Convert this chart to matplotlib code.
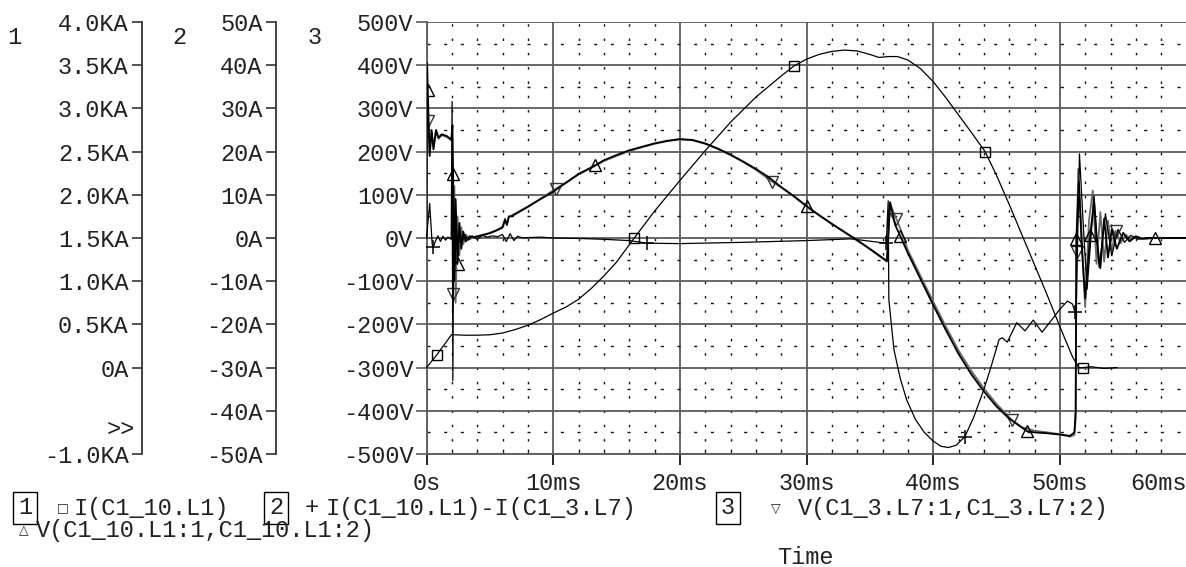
import numpy as np
import matplotlib
matplotlib.use("Agg")
import matplotlib.pyplot as plt
from matplotlib.ticker import FixedLocator, FixedFormatter, MultipleLocator

plt.rcParams['font.family'] = ['Liberation Mono', 'DejaVu Sans']
FS = 17
plt.rcParams['font.size'] = FS

# ---------------- data ----------------
# series 1: I(C1_10.L1)  [KA]  (axis 1)
t1 = [0, 0.8, 2.0, 2.1, 3, 4, 5, 6, 7, 8, 9, 10, 11, 12, 13, 14, 15, 16.4, 18, 20, 22, 24, 26, 28,
      29, 30, 31, 32, 33, 34, 35, 35.7, 36.5, 37.2, 38, 39, 40, 41, 42, 43, 44.1, 45, 46, 47, 48,
      49, 50, 51, 51.5, 51.8, 52.5, 53.5, 54.5]
s1 = [0.0, 0.145, 0.385, 0.38, 0.375, 0.375, 0.38, 0.40, 0.44, 0.49, 0.555, 0.63, 0.70, 0.79, 0.915,
      1.06, 1.22, 1.5, 1.81, 2.165, 2.51, 2.84, 3.13, 3.375, 3.49, 3.57, 3.625, 3.66, 3.675, 3.665,
      3.625, 3.59, 3.60, 3.60, 3.56, 3.46, 3.31, 3.125, 2.925, 2.725, 2.5, 2.225, 1.89, 1.54, 1.19,
      0.84, 0.475, 0.125, 0.0, 0.0, 0.01, -0.01, 0.0]
m1 = [0.8, 16.4, 29, 44.1, 51.8]

# series 2: I(C1_10.L1)-I(C1_3.L7)  [A]  (axis 2)
t2 = [0, 0.25, 0.45, 0.55, 0.7, 0.9, 1.1, 1.3, 1.5, 1.7, 1.95, 2.02, 2.08, 2.15, 2.25, 2.35, 2.45,
      2.6, 2.8, 3.0, 3.3, 3.6, 4.0, 4.4, 4.8, 5.2, 5.6, 6.0, 6.3, 6.6, 6.9, 7.2, 7.6, 8.0, 9.0, 10.0,
      12.0, 14.0, 16.0, 17.4, 20.0, 25.0, 30.0, 33.5, 36.3, 36.45, 36.5, 36.9, 37.4, 37.9, 38.6,
      39.3, 40.0, 40.6, 41.2, 41.8, 42.5, 43.2, 44.0, 44.6, 45.2, 45.45, 45.85, 46.6, 47.25, 47.9,
      48.6, 49.4, 50.0, 50.6, 51.0, 51.2, 51.3, 51.55, 51.85, 52.15, 52.7, 53.1, 53.6, 54.1, 54.6,
      55.1, 55.6, 56.2, 57.0, 58.0, 60.0]
s2 = [0, 8.0, -1.5, -2.0, -0.8, 0.5, -0.8, 0.4, -0.5, 0.2, -0.3, 31.6, -33.0, 4.0, -6.0, 3.0, -2.5,
      1.5, -1.0, 0.8, -0.5, 0.5, -0.3, 0.6, 0.2, 0.5, 0.3, 0.8, -0.8, 1.0, -0.6, 0.4, 0.0, 0.1, 0.2,
      0.0, -0.1, -0.3, -0.6, -1.2, -1.3, -1.0, -0.6, -0.2, -1.2, 8.6, -14.2, -25.8, -32.5, -37.4,
      -42.0, -45.0, -47.0, -48.2, -48.5, -48.0, -46.0, -41.5, -35.1, -29.5, -23.5, -23.1, -24.1,
      -19.6, -21.5, -19.0, -21.8, -18.8, -16.5, -14.6, -15.3, -17.2, -15.0, 19.5, 3.0, -11.9, 9.8,
      -6.8, 5.6, -4.1, 2.0, -1.0, 0.6, -0.3, 0.1, 0.0, 0.0]
m2 = [0.55, 17.4, 36.3, 42.5, 51.2]

# series 3: V(C1_3.L7:1,C1_3.L7:2)  [V]  (axis 3)
t3 = [0, 0.05, 0.1, 0.25, 0.4, 0.55, 0.75, 0.95, 1.2, 1.6, 1.95, 2.0, 2.1, 2.2, 2.3, 2.45, 2.6, 2.75,
      2.9, 3.1, 3.4, 3.8, 4.5, 5.0, 5.5, 6.0, 6.2, 6.35, 6.5, 6.7, 7.0, 8.0, 9.0, 10.2, 11.0, 12.0,
      13.0, 14.0, 15.0, 16.0, 17.0, 18.0, 19.0, 20.0, 21.0, 22.0, 23.0, 24.0, 25.0, 26.0, 27.3, 28.0,
      29.0, 30.0, 31.0, 32.0, 33.0, 34.0, 35.0, 36.35, 36.5, 36.6, 37.1, 37.5, 38.0, 39.0, 40.0, 41.0,
      42.0, 43.0, 44.0, 45.0, 46.2, 47.0, 48.0, 49.0, 50.0, 50.8, 51.15, 51.25, 51.32, 51.45, 51.7,
      52.0, 52.3, 52.6, 52.9, 53.2, 53.5, 53.8, 54.1, 54.4, 54.8, 55.2, 55.6, 56.0, 56.5, 57.5, 58.5,
      60.0]
s3 = [0, 300, 270, 200, 245, 210, 245, 230, 238, 234, 226, 230, -130, 120, -150, 50, -40, 25, -15, 8,
      -3, 3, 8, 12, 18, 26, 45, 33, 48, 52, 57, 73, 91, 114, 127, 147, 162, 178, 190, 201, 210, 218,
      224, 228, 226, 218, 206, 192, 176, 158, 130, 117, 96, 73, 52, 32, 13, -6, -26, -55, 25, 78, 44,
      15, -28, -88, -147, -205, -260, -307, -348, -384, -421, -438, -446, -450, -454, -460, -456,
      -420, -33, 160, 20, -160, 40, 110, -60, 60, -55, 40, -30, 17, -12, 8, -5, 3, -1, 0, 0, 0]
m3 = [0.1, 2.1, 10.2, 27.3, 37.1, 46.2, 51.32, 54.4]

# series 4: V(C1_10.L1:1,C1_10.L1:2)  [V]  (axis 3)
t4 = [0, 0.05, 0.1, 0.25, 0.4, 0.55, 0.75, 0.95, 1.2, 1.6, 1.95, 2.05, 2.1, 2.2, 2.3, 2.45, 2.6, 2.75,
      2.9, 3.1, 3.4, 3.8, 4.5, 5.0, 5.5, 6.0, 6.2, 6.35, 6.5, 6.7, 7.0, 8.0, 9.0, 10.0, 11.0, 12.0,
      13.3, 14.0, 15.0, 16.0, 17.0, 18.0, 19.0, 20.0, 21.0, 22.0, 23.0, 24.0, 25.0, 26.0, 27.0, 28.0,
      29.0, 30.0, 31.0, 32.0, 33.0, 34.0, 35.0, 36.35, 36.5, 36.6, 37.0, 37.4, 38.0, 39.0, 40.0, 41.0,
      42.0, 43.0, 44.0, 45.0, 46.0, 47.4, 48.0, 49.0, 50.0, 50.8, 51.15, 51.25, 51.3, 51.5, 51.75,
      52.0, 52.4, 52.7, 52.9, 53.2, 53.5, 53.8, 54.1, 54.5, 55.0, 55.5, 56.0, 56.5, 57.5, 58.5, 60.0]
s4 = [0, 405, 342, 190, 250, 205, 250, 232, 240, 236, 228, 260, 149, -100, 90, -60, 35, -25, 15, -8,
      4, 2, 7, 11, 17, 24, 42, 30, 50, 50, 55, 72, 90, 107, 128, 148, 168, 180, 192, 203, 211, 219,
      225, 229, 227, 219, 207, 193, 177, 160, 141, 118, 97, 74, 53, 33, 14, -5, -25, -53, 30, 83, 30,
      5, -35, -95, -155, -213, -268, -315, -355, -390, -418, -447, -450, -452, -455, -458, -450, -400,
      -2, 130, -30, -140, 7, 85, -3, -70, 45, -45, 20, -25, 12, -8, 4, -2, 0, 0, 0]
m4 = [0.1, 2.1, 2.45, 13.3, 30.0, 37.4, 47.4, 51.3, 52.4, 57.5]

# axis ticks / labels
x_ticks = [0, 10, 20, 30, 40, 50, 60]
x_labels = ["0s", "10ms", "20ms", "30ms", "40ms", "50ms", "60ms"]
ka_ticks = [-1.0, 0.0, 0.5, 1.0, 1.5, 2.0, 2.5, 3.0, 3.5, 4.0]
ka_labels = ["-1.0KA", "0A", "0.5KA", "1.0KA", "1.5KA", "2.0KA", "2.5KA", "3.0KA", "3.5KA", "4.0KA"]
a_ticks = [-50, -40, -30, -20, -10, 0, 10, 20, 30, 40, 50]
a_labels = ["-50A", "-40A", "-30A", "-20A", "-10A", "0A", "10A", "20A", "30A", "40A", "50A"]
v_ticks = [-500, -400, -300, -200, -100, 0, 100, 200, 300, 400, 500]
v_labels = ["-500V", "-400V", "-300V", "-200V", "-100V", "0V", "100V", "200V", "300V", "400V", "500V"]

legend_names = ["I(C1_10.L1)", "I(C1_10.L1)-I(C1_3.L7)", "V(C1_3.L7:1,C1_3.L7:2)",
                "V(C1_10.L1:1,C1_10.L1:2)"]

# ---------------- figure ----------------
W, H = 1186, 567
fig = plt.figure(figsize=(W / 100, H / 100), dpi=100)

def fx(px):
    return px / W

def fy(py):
    return 1 - py / H

X0, X1, Y0, Y1 = 426.5, 1186.5, 22.0, 454.0
ax = fig.add_axes([fx(X0), fy(Y1), (X1 - X0) / W, (Y1 - Y0) / H])
ax.set_xlim(0, 60)
ax.set_ylim(-500, 500)

GRID = '#5c5c5c'
TXT = '#222222'

# grid
ax.xaxis.set_major_locator(FixedLocator(x_ticks))
ax.xaxis.set_major_formatter(FixedFormatter(x_labels))
ax.xaxis.set_minor_locator(MultipleLocator(2))
ax.yaxis.set_major_locator(FixedLocator(v_ticks))
ax.yaxis.set_major_formatter(FixedFormatter(v_labels))
ax.yaxis.set_minor_locator(MultipleLocator(50))
ax.grid(which='major', color=GRID, lw=1.3, ls='-')
ax.xaxis.grid(which='minor', color='#111111', lw=1.0, ls=(1.0, (1.8, 8.5)))
ax.yaxis.grid(which='minor', color='#111111', lw=1.0, ls=(0, (2.2, 9.8)))
ax.set_axisbelow(True)

for sp in ['top', 'right']:
    ax.spines[sp].set_visible(False)
for sp in ['left', 'bottom']:
    ax.spines[sp].set_color(GRID)
    ax.spines[sp].set_linewidth(1.3)

ax.tick_params(axis='y', which='major', direction='out', length=8, width=1.2, color=GRID,
               pad=1.5, labelsize=FS, labelcolor=TXT)
ax.tick_params(axis='y', which='minor', length=0)
ax.tick_params(axis='x', which='major', direction='out', length=8, width=1.2, color='black',
               pad=5, labelsize=FS, labelcolor=TXT)
ax.tick_params(axis='x', which='minor', direction='in', length=3.5, width=1.0, color='#222222')
labs = ax.get_xticklabels()
labs[-1].set_horizontalalignment('right')

# secondary axes 1 (KA) and 2 (A)
ax1 = ax.twinx()
ax2 = ax.twinx()
for a, xpos, ticks, labels, lim in [(ax1, 142.5, ka_ticks, ka_labels, (-1.0, 4.0)),
                                    (ax2, 276.5, a_ticks, a_labels, (-50, 50))]:
    a.patch.set_visible(False)
    a.set_ylim(*lim)
    for sp in ['top', 'right', 'bottom']:
        a.spines[sp].set_visible(False)
    a.spines['left'].set_visible(True)
    a.spines['left'].set_position(('axes', (xpos - X0) / (X1 - X0)))
    a.spines['left'].set_color('#333333')
    a.spines['left'].set_linewidth(1.3)
    a.yaxis.tick_left()
    a.yaxis.set_major_locator(FixedLocator(ticks))
    a.yaxis.set_major_formatter(FixedFormatter(labels))
    a.tick_params(axis='y', direction='out', length=7.5, width=1.2, color='#333333', pad=2.5,
                  labelsize=FS, labelcolor=TXT)

def idx(t, marks):
    t = np.asarray(t)
    return [int(np.argmin(np.abs(t - m))) for m in marks]

# series
ax.plot(t3, s3, color='#6a6a6a', lw=1.3, marker='v', ms=8, mfc='none', mec='#333333', mew=1.0,
        markevery=idx(t3, m3), zorder=3)
ax.plot(t4, s4, color='black', lw=1.3, marker='^', ms=8, mfc='none', mec='black', mew=1.0,
        markevery=idx(t4, m4), zorder=4)
ax1.plot(t1, s1, color='black', lw=0.9, marker='s', ms=7, mfc='none', mec='black', mew=1.0,
         markevery=idx(t1, m1))
ax2.plot(t2, s2, color='black', lw=0.9, marker='+', ms=10, mec='black', mew=1.1,
         markevery=idx(t2, m2))

# axis numbers and >>
fig.text(fx(14), fy(38), "1", ha='center', va='center', color=TXT, fontsize=FS)
fig.text(fx(179), fy(38), "2", ha='center', va='center', color=TXT, fontsize=FS)
fig.text(fx(315), fy(38), "3", ha='center', va='center', color=TXT, fontsize=FS)
fig.text(fx(121), fy(429), ">>", ha='center', va='center', color=TXT, fontsize=FS)

# legend
ly1, ly2 = 508, 531
box = dict(boxstyle='square,pad=0.2', fc='none', ec='black', lw=1.0)
fig.text(fx(25), fy(ly1), "1", ha='center', va='center', color=TXT, fontsize=FS, bbox=box)
fig.text(fx(63), fy(ly1), "\u25a1", ha='center', va='center', color=TXT, fontsize=9,
         family='DejaVu Sans')
fig.text(fx(74), fy(ly1), legend_names[0], ha='left', va='center', color=TXT, fontsize=FS)
fig.text(fx(276), fy(ly1), "2", ha='center', va='center', color=TXT, fontsize=FS, bbox=box)
fig.text(fx(312), fy(ly1), "+", ha='center', va='center', color=TXT, fontsize=FS)
fig.text(fx(326), fy(ly1), legend_names[1], ha='left', va='center', color=TXT, fontsize=FS)
fig.text(fx(728), fy(ly1), "3", ha='center', va='center', color=TXT, fontsize=FS, bbox=box)
fig.text(fx(776), fy(ly1), "\u25bd", ha='center', va='center', color=TXT, fontsize=9,
         family='DejaVu Sans')
fig.text(fx(798), fy(ly1), legend_names[2], ha='left', va='center', color=TXT, fontsize=FS)
fig.text(fx(24), fy(ly2), "\u25b3", ha='center', va='center', color=TXT, fontsize=9,
         family='DejaVu Sans')
fig.text(fx(36), fy(ly2), legend_names[3], ha='left', va='center', color=TXT, fontsize=FS)

fig.text(fx(805), fy(557), "Time", ha='center', va='center', color=TXT, fontsize=FS)

fig.savefig("out.png", dpi=100)
